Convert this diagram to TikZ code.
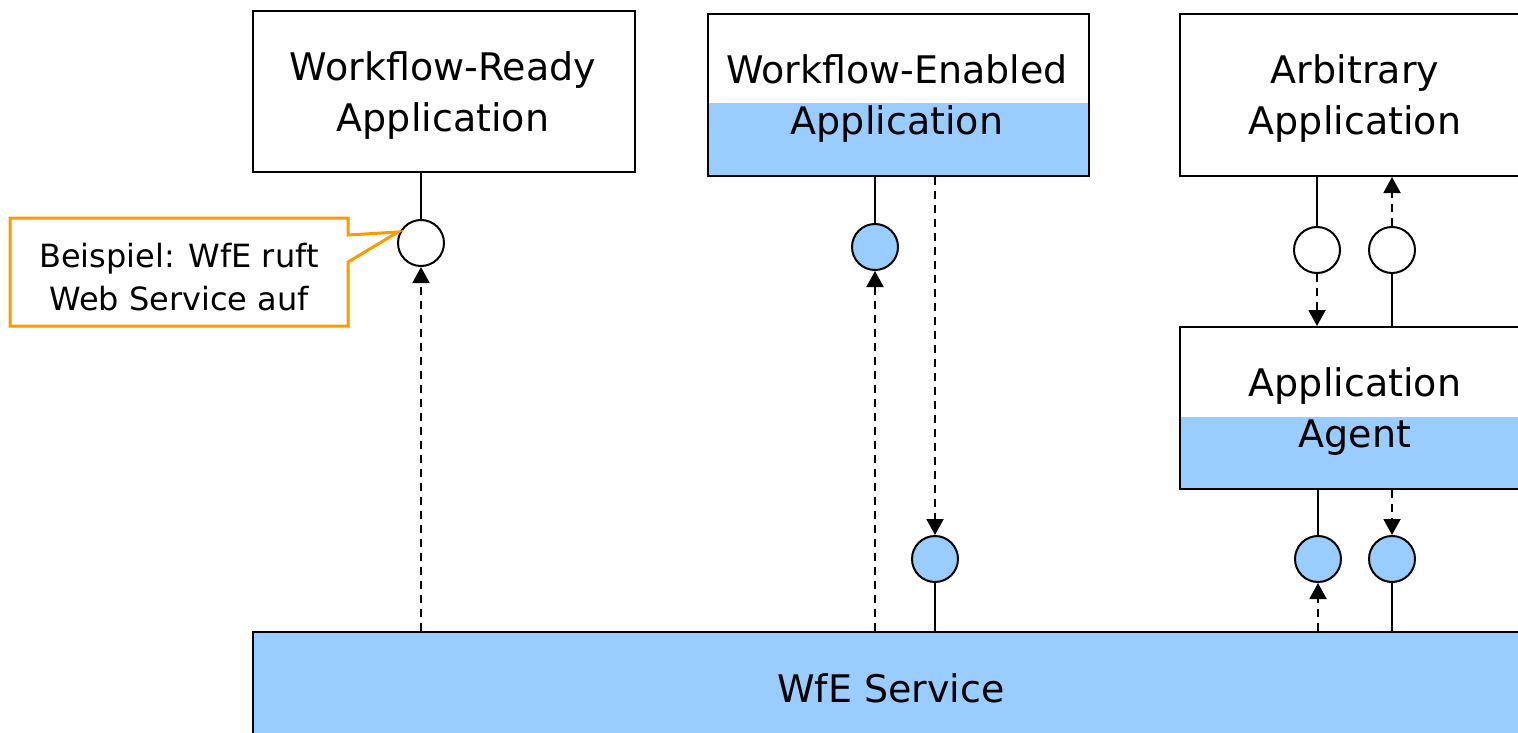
\documentclass[tikz,border=0pt]{standalone}
\usepackage{fontspec}
\setmainfont{DejaVu Sans}
\usetikzlibrary{arrows.meta}
\definecolor{lblue}{RGB}{153,204,255}
\definecolor{corange}{RGB}{255,153,0}
\begin{document}
\begin{tikzpicture}[x=1pt,y=-1pt,
  box/.style={draw,line width=2pt,inner sep=0pt,anchor=north west},
  fillbox/.style={fill=lblue,draw=none,inner sep=0pt,anchor=north west},
  port/.style={draw,circle,line width=2pt,minimum size=46pt,inner sep=0pt,fill=white},
  bport/.style={port,fill=lblue},
  txt/.style={font=\fontsize{38}{51}\selectfont,align=center,inner sep=0pt},
  stxt/.style={font=\fontsize{32}{43}\selectfont,align=center,inner sep=0pt},
  link/.style={line width=2pt},
  flow/.style={line width=2pt,dash pattern=on 8pt off 6pt,-{Triangle[width=17pt,length=16pt]}},
]
\useasboundingbox (0,0) rectangle (1518,733);
\begin{scope}
\clip (0,0) rectangle (1518,733);
% boxes
\node[box,minimum width=382pt,minimum height=161pt] (wr) at (252,10) {};
\node[fillbox,minimum width=381pt,minimum height=72pt] (webg) at (707,103) {};
\node[box,minimum width=381pt,minimum height=162pt] (we) at (707,13) {};
\node[box,minimum width=400pt,minimum height=162pt] (ar) at (1179,13) {};
\node[fillbox,minimum width=400pt,minimum height=71pt] (agbg) at (1179,417) {};
\node[box,minimum width=400pt,minimum height=162pt] (ag) at (1179,326) {};
\node[box,fill=lblue,minimum width=1400pt,minimum height=200pt] (svc) at (252,631) {};
% texts
\node[txt] (t1) at (443,96) {Workflow-Ready\\Application};
\node[txt] (t2) at (897,99) {Workflow-Enabled\\Application};
\node[txt] (t3) at (1355,99) {Arbitrary\\Application};
\node[txt] (t4) at (1355,412) {Application\\Agent};
\node[txt] (t5) at (891,688) {WfE Service};
% ports
\node[port] (c1) at (421,243) {};
\node[bport] (c2) at (875,247) {};
\node[bport] (c3) at (935,559) {};
\node[port] (c4) at (1317,250) {};
\node[port] (c5) at (1392,250) {};
\node[bport] (c6) at (1318,559) {};
\node[bport] (c7) at (1392,559) {};
% connectors
\draw[link] (wr.south -| c1) -- (c1.north);
\draw[flow] (svc.north -| c1) -- (c1.south);
\draw[link] (we.south -| c2) -- (c2.north);
\draw[flow] (svc.north -| c2) -- (c2.south);
\draw[flow] (we.south -| c3) -- (c3.north);
\draw[link] (c3.south) -- (svc.north -| c3);
\draw[link] (ar.south -| c4) -- (c4.north);
\draw[flow] (c4.south) -- (ag.north -| c4);
\draw[link] (ag.north -| c5) -- (c5.south);
\draw[flow] (c5.north) -- (ar.south -| c5);
\draw[link] (ag.south -| c6) -- (c6.north);
\draw[flow] (svc.north -| c6) -- (c6.south);
\draw[flow] (ag.south -| c7) -- (c7.north);
\draw[link] (c7.south) -- (svc.north -| c7);
% callout
\coordinate (tip) at (398,232);
\draw[corange,line width=3pt,fill=white] (10,218) -- (348,218) -- (348,235) -- (tip) -- (348,262) -- (348,326) -- (10,326) -- cycle;
\node[stxt] (co) at (179,277) {Beispiel: WfE ruft\\Web Service auf};
\end{scope}
\end{tikzpicture}
\end{document}
